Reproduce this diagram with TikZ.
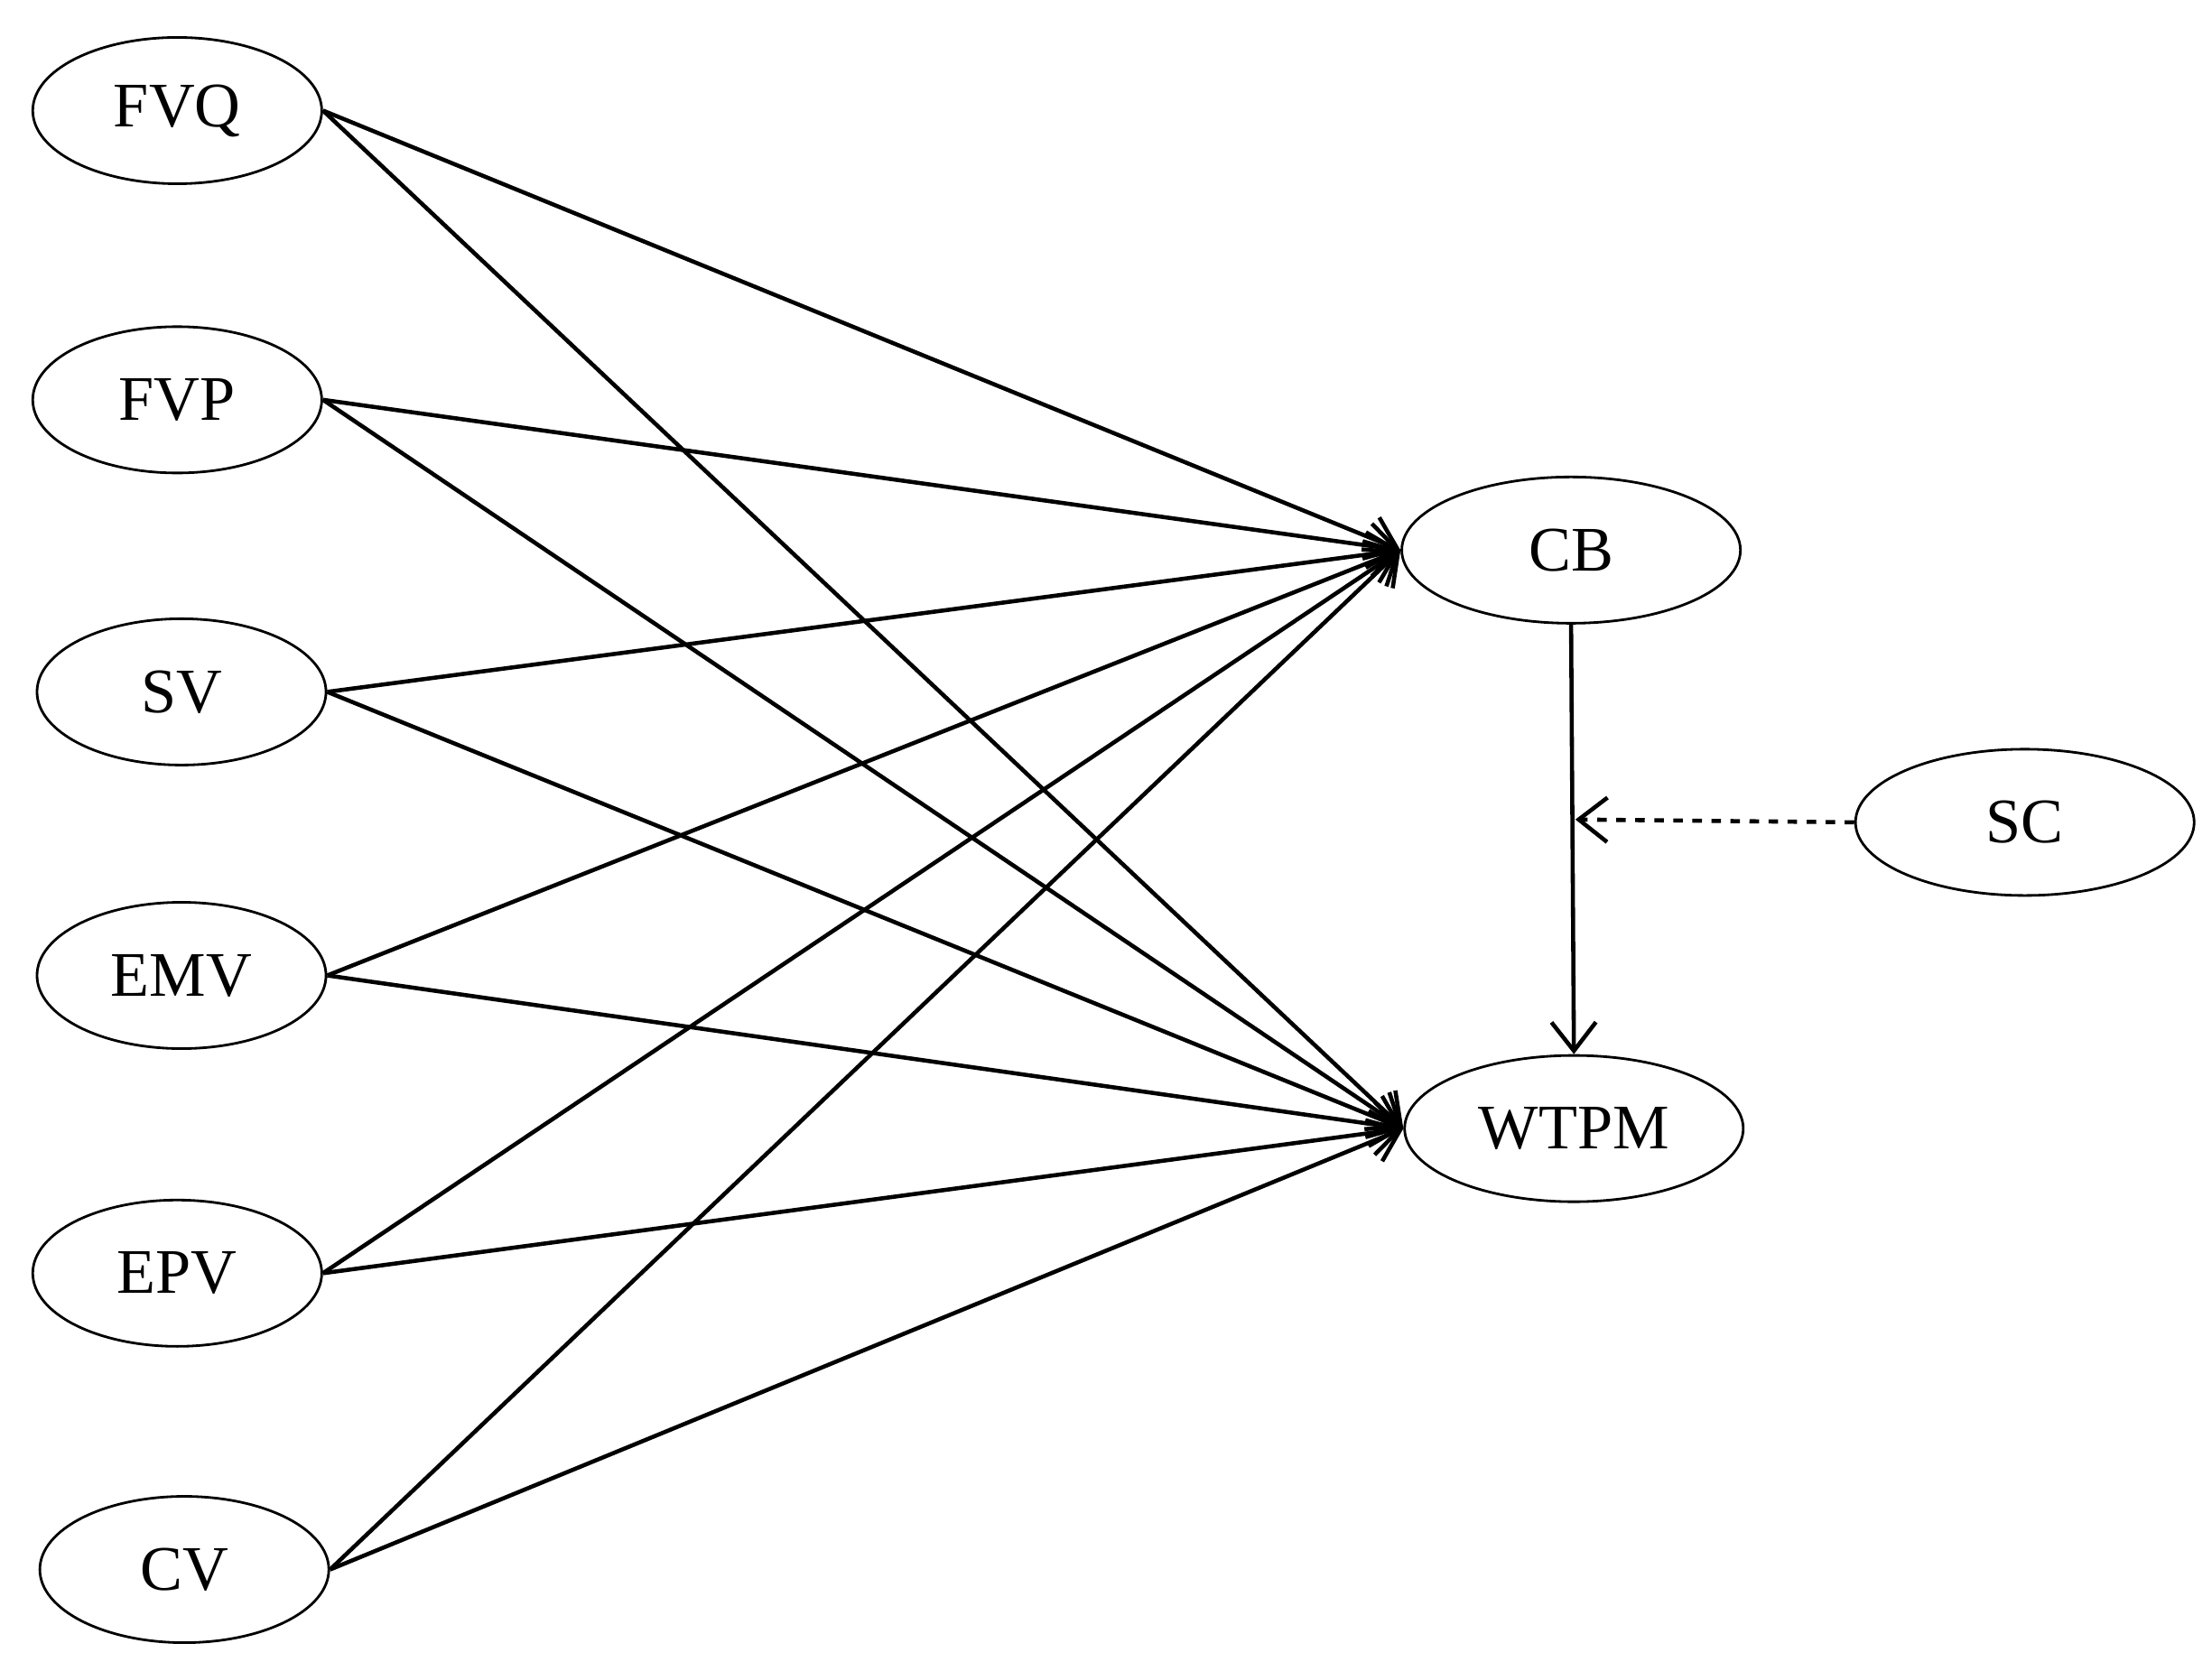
\documentclass[tikz,border=0pt]{standalone}
\usepackage{fontspec}
\setmainfont{Liberation Serif}
\usetikzlibrary{shapes.geometric,arrows.meta}
\tikzset{
  var/.style={draw,ellipse,line width=0.8pt,minimum width=3.2cm,minimum height=1.62cm,font=\fontsize{20}{24}\selectfont},
  big/.style={var,minimum width=3.75cm},
  path/.style={line width=1.3pt,-{Straight Barb[length=9pt,width=14pt,line width=1.3pt]}}
}
\begin{document}
\begin{tikzpicture}[x=0.0157cm,y=-0.0157cm]
\useasboundingbox (0,0) rectangle (1560,1172);
    \node[var] (FVQ) at (125,78) {FVQ};
    \node[var] (FVP) at (125,282) {FVP};
    \node[var] (SV) at (128,488) {SV};
    \node[var] (EMV) at (128,688) {EMV};
    \node[var] (EPV) at (125,898) {EPV};
    \node[var] (CV) at (130,1107) {CV};
    \node[big] (CB) at (1108,388) {CB};
    \node[big] (WTPM) at (1110,796) {WTPM};
    \node[big] (SC) at (1428,580) {SC};
    \foreach \v in {FVQ,FVP,SV,EMV,EPV,CV}{
      \draw[path] (\v.east) -- (CB.west);
      \draw[path] (\v.east) -- (WTPM.west);
    }
    \draw[path] (CB.south) -- (WTPM.north);
    \coordinate (mid) at (1111,578);
    \draw[path,dashed] (SC.west) -- (mid);
\end{tikzpicture}
\end{document}
